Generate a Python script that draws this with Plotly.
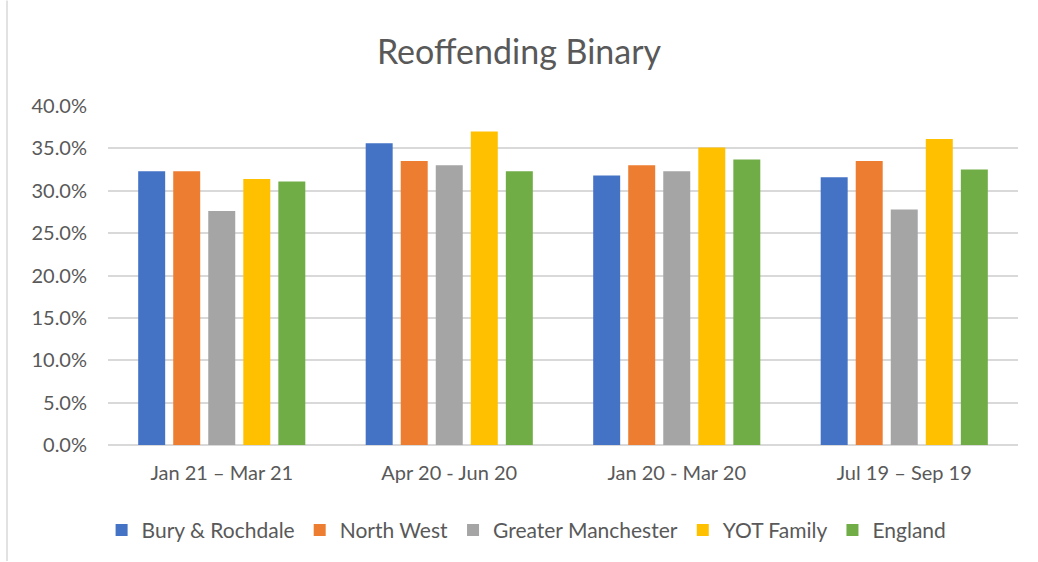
import plotly.graph_objects as go

# Data
periods = ["Jan 21 – Mar 21", "Apr 20 - Jun 20", "Jan 20 - Mar 20", "Jul 19 – Sep 19"]
bury_rochdale = [0.323, 0.356, 0.318, 0.316]
north_west = [0.323, 0.335, 0.330, 0.335]
greater_manchester = [0.276, 0.330, 0.323, 0.278]
yot_family = [0.314, 0.370, 0.351, 0.361]
england = [0.311, 0.323, 0.337, 0.325]

COLORS = {
    'blue': '#4472C4',
    'orange': '#ED7D31',
    'gray': '#A5A5A5',
    'yellow': '#FFC000',
    'green': '#70AD47',
    'text': '#595959',
    'grid': '#D9D9D9',
}

FONT = "Lato, Calibri, sans-serif"

series = [
    ("Bury & Rochdale", bury_rochdale, COLORS['blue']),
    ("North West", north_west, COLORS['orange']),
    ("Greater Manchester", greater_manchester, COLORS['gray']),
    ("YOT Family", yot_family, COLORS['yellow']),
    ("England", england, COLORS['green']),
]

fig = go.Figure()

for name, values, color in series:
    fig.add_trace(go.Bar(
        x=periods,
        y=values,
        name=name,
        marker=dict(color=color, line=dict(width=0)),
        hovertemplate='%{x}<br>' + name + ': %{y:.1%}<extra></extra>'
    ))

fig.update_layout(
    title=dict(
        text="Reoffending Binary",
        font=dict(family=FONT, size=34, color=COLORS['text']),
        x=0.5,
        xanchor='center',
        y=1 - 52 / 562,
        yanchor='middle'
    ),
    width=1038,
    height=562,
    margin=dict(l=108, r=20, t=106, b=116),
    paper_bgcolor='white',
    plot_bgcolor='white',
    barmode='group',
    bargap=0.23,
    bargroupgap=0.23,
    font=dict(family=FONT, color=COLORS['text']),
    showlegend=True,
    legend=dict(
        orientation="h",
        x=0.46,
        xanchor='center',
        y=-0.248,
        yanchor='middle',
        font=dict(family=FONT, size=21, color=COLORS['text']),
        itemwidth=30,
        traceorder='normal'
    ),
    xaxis=dict(
        showgrid=False,
        showline=False,
        ticks='',
        ticklabelstandoff=14,
        tickfont=dict(family=FONT, size=20, color=COLORS['text']),
    ),
    yaxis=dict(
        range=[0, 0.4],
        dtick=0.05,
        tickformat='.1%',
        showgrid=True,
        gridcolor=COLORS['grid'],
        gridwidth=1.5,
        zeroline=True,
        zerolinecolor=COLORS['grid'],
        zerolinewidth=1.5,
        showline=False,
        ticks='',
        ticklabelstandoff=20,
        tickfont=dict(family=FONT, size=20, color=COLORS['text']),
    ),
    shapes=[
        dict(
            type='line',
            xref='paper', yref='paper',
            x0=(7 - 108) / 910, x1=(7 - 108) / 910,
            y0=(445.7 - 562) / 340, y1=(445.7 - 0) / 340,
            line=dict(color=COLORS['grid'], width=1.5)
        )
    ]
)

# remove the default page margin so the chart sits at the window origin
fig.write_html(
    "out.html",
    config={'displayModeBar': False},
    post_script="document.body.style.margin='0';"
)
